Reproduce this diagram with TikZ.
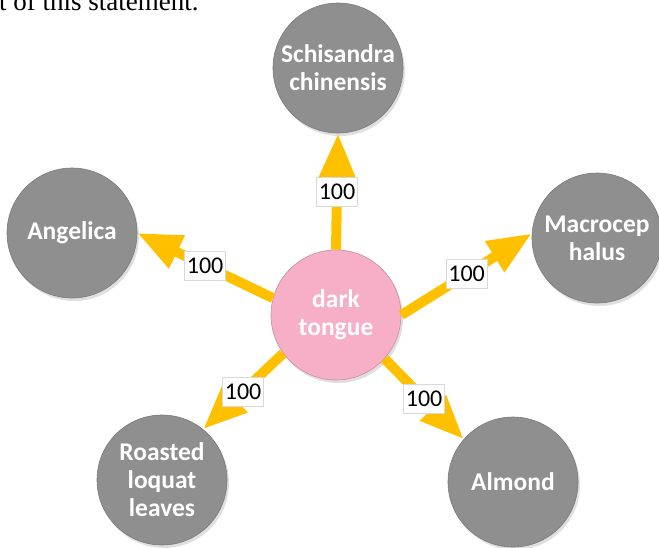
\documentclass[tikz,border=0pt]{standalone}
\usepackage{fontspec}
\setmainfont{Carlito}
\newfontfamily\fragface{Liberation Serif}
\usetikzlibrary{arrows.meta,shadows}
\definecolor{arrowgold}{HTML}{FFC000}
\definecolor{nodegray}{HTML}{8F8F8F}
\definecolor{nodegrayedge}{HTML}{7A7A7A}
\definecolor{nodepink}{HTML}{F6AFC7}
\definecolor{nodepinkedge}{HTML}{C98BA3}
\begin{document}
\begin{tikzpicture}[x=1pt,y=-1pt,
  herb/.style={circle, minimum size=130pt, inner sep=0pt, fill=nodegray, draw=nodegrayedge, line width=0.6pt,
    text=white, align=center, font=\bfseries\fontsize{25.5}{28}\selectfont,
    drop shadow={opacity=0.25, shadow xshift=2pt, shadow yshift=-3pt}},
  hub/.style={herb, fill=nodepink, draw=nodepinkedge},
  link/.style={draw=arrowgold, line width=10pt, -{Triangle[length=44pt,width=34pt]}},
  weight/.style={fill=white, draw=black!15, line width=0.5pt, inner sep=0pt, minimum width=41pt, minimum height=29pt,
    text=black, font=\fontsize{24}{24}\selectfont}
]
\useasboundingbox (0,0) rectangle (659,547);
\node[anchor=base west, inner sep=0pt, font=\fragface\fontsize{27}{27}\selectfont] (frag) at (-1,10) {t of this statement.};
\node[herb] (sch) at (338,68) {Schisandra\\chinensis};
\node[herb] (ang) at (72,233) {Angelica};
\node[herb] (mac) at (597,238) {Macrocep\\halus};
\node[herb] (roa) at (162,480) {Roasted\\loquat\\leaves};
\node[herb] (alm) at (513,482) {Almond};
\node[hub] (ctr) at (336,315) {dark\\tongue};
\draw[link] (ctr.90) -- node[weight]{100} (sch.270);
\draw[link] (ctr.165) -- node[weight]{100} (ang.0);
\draw[link] (ctr.0) -- node[weight]{100} (mac.176);
\draw[link] (ctr.216) -- node[weight]{100} (roa.51);
\draw[link] (ctr.-42) -- node[weight]{100} (alm.139);
\end{tikzpicture}
\end{document}
